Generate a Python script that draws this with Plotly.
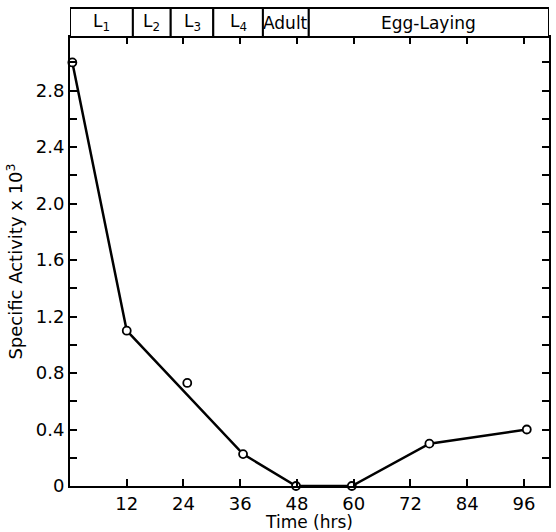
import plotly.graph_objects as go

# measured points
time_hrs = [0.5, 12, 24.8, 36.6, 47.8, 59.6, 76, 96.6]
activity = [3.0, 1.10, 0.73, 0.226, 0.0, 0.0, 0.30, 0.40]

# drawn curve (passes through all points except the 25-h point)
curve_time = [0.5, 12, 36.6, 47.8, 59.6, 76, 96.6]
curve_activity = [3.0, 1.10, 0.226, 0.0, 0.0, 0.30, 0.40]

# developmental stages along the top
stage_labels = ["L<sub>1</sub>", "L<sub>2</sub>", "L<sub>3</sub>", "L<sub>4</sub>", "Adult", "Egg-Laying"]
stage_start = [0, 13.3, 21.3, 30.3, 40.8, 50.5]
stage_end = [13.3, 21.3, 30.3, 40.8, 50.5, 101.3]

x_ticks = [12, 24, 36, 48, 60, 72, 84, 96]
y_tickvals = [0, 0.4, 0.8, 1.2, 1.6, 2.0, 2.4, 2.8]
y_ticktext = ["0", "0.4", "0.8", "1.2", "1.6", "2.0", "2.4", "2.8"]

FONT = "DejaVu Sans"

fig = go.Figure()
fig.add_trace(go.Scatter(x=curve_time, y=curve_activity, mode="lines",
                         line=dict(color="black", width=2.5), hoverinfo="skip",
                         showlegend=False, cliponaxis=False))
fig.add_trace(go.Scatter(x=time_hrs, y=activity, mode="markers",
                         marker=dict(symbol="circle", size=8, color="white",
                                     line=dict(color="black", width=1.8)),
                         showlegend=False, cliponaxis=False))

top = 1.0644
for s, e, lab in zip(stage_start, stage_end, stage_labels):
    fig.add_shape(type="rect", xref="x", yref="paper", x0=s, x1=e, y0=1.0, y1=top,
                  line=dict(color="black", width=2), fillcolor="white")
    fig.add_annotation(x=(s + e) / 2, y=(1.0 + top) / 2, xref="x", yref="paper",
                       text=lab, showarrow=False,
                       font=dict(family=FONT, size=17, color="black"),
                       xanchor="center", yanchor="middle")

fig.update_layout(
    width=556, height=532,
    margin=dict(l=70, r=5, t=37, b=45),
    paper_bgcolor="white", plot_bgcolor="white",
    font=dict(family=FONT, size=18, color="black"),
    xaxis=dict(range=[0, 101.3], tickvals=x_ticks, ticktext=[str(v) for v in x_ticks],
               ticks="inside", ticklen=7, tickwidth=2, tickcolor="black",
               showline=True, linecolor="black", linewidth=2, mirror="ticks",
               showgrid=False, zeroline=False,
               title=dict(text="Time (hrs)", font=dict(family=FONT, size=17), standoff=2)),
    yaxis=dict(range=[0, 3.18], tickvals=y_tickvals, ticktext=y_ticktext,
               ticks="inside", ticklen=7, tickwidth=2, tickcolor="black",
               minor=dict(dtick=0.2, tick0=0, ticks="inside", ticklen=7,
                          tickwidth=2, tickcolor="black", showgrid=False),
               showline=True, linecolor="black", linewidth=2, mirror="ticks",
               showgrid=False, zeroline=False,
               title=dict(text="Specific Activity x 10<sup>3</sup>",
                          font=dict(family=FONT, size=18), standoff=8)),
)

fig.write_html("out.html")
